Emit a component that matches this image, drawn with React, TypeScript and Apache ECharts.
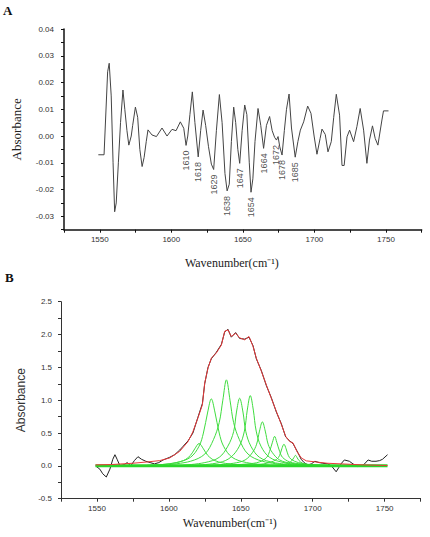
import React, { useEffect, useRef } from 'react';
import * as echarts from 'echarts';

// ---------- Panel A: second-derivative spectrum ----------
const topWavenumbers = [
  1549, 1553, 1555.5, 1556.6, 1558, 1559.3, 1560.4, 1561.5, 1563, 1564.5, 1566.2, 1567.5, 1569, 1570.3,
  1572, 1573, 1574.9, 1576.5, 1578, 1579.6, 1581, 1582.5, 1583.7, 1586.5, 1589.6, 1593.5, 1597,
  1600.5, 1603.3, 1606.3, 1608.7, 1610.3, 1611.5, 1613, 1614.7, 1616.5, 1618.8, 1620.5, 1622.2,
  1624, 1626, 1628, 1629.6, 1631.5, 1633.6, 1635.5, 1637.5, 1639, 1640.5, 1642, 1643.6, 1645,
  1646.5, 1647.8, 1649.5, 1651.3, 1652.8, 1654.5, 1655.7, 1657, 1658.5, 1660.6, 1662.5, 1664.5,
  1666.5, 1668.7, 1670.5, 1672.2, 1673.5, 1674.6, 1675.8, 1677.4, 1679, 1680.5, 1682.3, 1684,
  1686.6, 1688.5, 1690.2, 1692.5, 1695.3, 1697.6, 1699.8, 1701.8, 1704, 1705.3, 1707.6, 1709.5,
  1711.8, 1713.5, 1715.3, 1717.6, 1719.3, 1720.8, 1722.8, 1724.6, 1727.4, 1729.7, 1732, 1734.4,
  1736.7, 1738.5, 1740.6, 1742.5, 1744.4, 1747.2, 1748.3, 1751.8,
];
const topAbsorbance = [
  -0.007, -0.007, 0.024, 0.0272, 0.015, -0.01, -0.0283, -0.025, -0.01, 0.005, 0.0172, 0.01, 0.002, -0.0034,
  0.0, 0.004, 0.0108, 0.007, -0.005, -0.0114, -0.008, -0.002, 0.0023, 0.0004, -0.0002, 0.003, 0.0,
  0.0025, 0.002, 0.0053, 0.0029, -0.0035, 0.0, 0.008, 0.0165, 0.005, -0.0078, 0.002, 0.0097,
  0.004, -0.004, -0.0105, -0.0125, 0.002, 0.0155, 0.005, -0.014, -0.0205, -0.018, -0.002, 0.0108, 0.005,
  -0.005, -0.0102, 0.002, 0.0116, 0.008, -0.01, -0.021, -0.016, -0.002, 0.0103, 0.004, -0.0046,
  0.004, 0.0073, 0.002, -0.0005, -0.0015, -0.0002, -0.004, -0.0071, 0.002, 0.01, 0.0157, 0.003,
  -0.0079, -0.002, 0.0022, 0.0053, 0.0112, 0.0085, 0.0, -0.0068, -0.0009, 0.0026, 0.0006, -0.0059,
  -0.0021, 0.007, 0.0156, 0.0078, -0.011, -0.011, -0.0003, 0.0022, -0.0021, 0.0035, 0.0103, 0.0022,
  -0.0102, -0.0015, 0.0038, -0.0009, -0.0034, 0.006, 0.0094, 0.0094,
];
const peakNames = ['1610', '1618', '1629', '1638', '1647', '1654', '1664', '1672', '1678', '1685'];
const peakWavenumbers = [1610.3, 1618.8, 1629.6, 1639, 1647.8, 1655.7, 1664.5, 1673.5, 1677.4, 1686.6];
const peakAbsorbance = [-0.0035, -0.0078, -0.0125, -0.0205, -0.0102, -0.021, -0.0046, -0.0015, -0.0071, -0.0079];

const topYTicks = { min: -0.035, max: 0.04, step: 0.005 };
const xTicks = { min: 1525, max: 1775, step: 25 };

// ---------- Panel B: curve fitting ----------
const rawSpectrum: [number, number][] = [
  [1549, 0.0], [1552, -0.05], [1554, -0.12], [1556.5, -0.17], [1559, -0.05], [1561, 0.1], [1562.5, 0.17],
  [1564, 0.1], [1566, 0.0], [1569, 0.02], [1571, 0.05], [1573.5, 0.0], [1576, 0.08], [1578.5, 0.14],
  [1581, 0.1], [1584, 0.07], [1587, 0.05], [1590, 0.03], [1593, 0.05], [1596, 0.09], [1600.5, 0.13],
  [1604, 0.17], [1607.5, 0.24], [1610, 0.3], [1613.3, 0.38], [1616.7, 0.5], [1620.2, 0.74], [1623.3, 0.95],
  [1624.9, 1.25], [1627.2, 1.5], [1629.5, 1.63], [1633, 1.73], [1636.5, 1.85], [1638.8, 2.04],
  [1641.1, 2.08], [1643.4, 1.96], [1646.4, 2.03], [1649.2, 1.94], [1652.7, 1.93], [1655.7, 1.96],
  [1658.5, 1.83], [1660.8, 1.63], [1664.3, 1.45], [1667.8, 1.22], [1671.2, 1.04], [1674.7, 0.82],
  [1678.2, 0.64], [1681.2, 0.44], [1684, 0.38], [1686.3, 0.34], [1689, 0.23], [1692, 0.1],
  [1694, 0.05], [1696.5, 0.015], [1699, 0.03], [1701.5, 0.07], [1704.5, 0.05], [1707, 0.04],
  [1710.5, 0.03], [1713, 0.0], [1716.3, -0.09], [1718, -0.03], [1720, 0.04], [1722, 0.09],
  [1725.5, 0.07], [1728, 0.03], [1731, -0.01], [1734, 0.0], [1736, 0.03], [1738.5, 0.09],
  [1741, 0.07], [1744, 0.07], [1746.5, 0.08], [1748.5, 0.1], [1752, 0.17],
];
const fittedSpectrum: [number, number][] = [
  [1549, 0.015], [1560, 0.02], [1575, 0.04], [1585, 0.06], [1593.6, 0.08], [1600.5, 0.12],
  [1607.5, 0.22], [1613.3, 0.37], [1616.7, 0.52], [1620.2, 0.73], [1623.3, 0.93], [1624.9, 1.26],
  [1627.2, 1.49], [1629.5, 1.64], [1633, 1.72], [1636.5, 1.84], [1638.8, 2.05], [1641.1, 2.07],
  [1643.4, 1.97], [1646.4, 2.02], [1649.2, 1.95], [1652.7, 1.92], [1655.7, 1.97], [1658.5, 1.82],
  [1660.8, 1.64], [1664.3, 1.44], [1667.8, 1.23], [1671.2, 1.03], [1674.7, 0.83], [1678.2, 0.63],
  [1681.2, 0.45], [1684, 0.37], [1686.3, 0.35], [1689, 0.22], [1692.1, 0.12], [1695.6, 0.076],
  [1702, 0.06], [1710, 0.04], [1720, 0.03], [1735, 0.015], [1752, 0.005],
];
const band1621: [number, number][] = [
  [1585, 0.01], [1600, 0.03], [1610, 0.08], [1615, 0.16], [1618, 0.26], [1621, 0.34], [1624, 0.26],
  [1627, 0.16], [1632, 0.08], [1642, 0.03], [1660, 0.01],
];
const band1629: [number, number][] = [
  [1590, 0.01], [1605, 0.05], [1615, 0.13], [1621, 0.3], [1624, 0.5], [1627, 0.82], [1629.5, 1.02],
  [1632, 0.82], [1635, 0.5], [1638, 0.3], [1644, 0.13], [1654, 0.05], [1670, 0.01],
];
const band1640: [number, number][] = [
  [1600, 0.02], [1615, 0.07], [1625, 0.18], [1631, 0.4], [1635, 0.66], [1637.5, 1.0], [1640, 1.31],
  [1642.5, 1.0], [1645, 0.66], [1649, 0.4], [1655, 0.18], [1665, 0.07], [1680, 0.02],
];
const band1649: [number, number][] = [
  [1610, 0.01], [1625, 0.05], [1635, 0.13], [1641, 0.3], [1645, 0.52], [1647, 0.82], [1649.2, 1.03],
  [1651.5, 0.82], [1653.5, 0.52], [1657, 0.3], [1663, 0.13], [1673, 0.05], [1690, 0.01],
];
const band1657: [number, number][] = [
  [1620, 0.01], [1635, 0.05], [1643, 0.13], [1649, 0.3], [1652.5, 0.53], [1654.5, 0.85], [1656.6, 1.07],
  [1658.7, 0.85], [1660.7, 0.53], [1664, 0.3], [1670, 0.13], [1680, 0.05], [1695, 0.01],
];
const band1665: [number, number][] = [
  [1630, 0.01], [1645, 0.04], [1653, 0.09], [1658, 0.2], [1661, 0.33], [1663, 0.53], [1665, 0.67],
  [1667, 0.53], [1669, 0.33], [1672, 0.2], [1677, 0.09], [1685, 0.04], [1700, 0.01],
];
const band1673: [number, number][] = [
  [1640, 0.01], [1655, 0.03], [1663, 0.06], [1668, 0.13], [1670, 0.22], [1672, 0.36], [1673.5, 0.45],
  [1675, 0.36], [1677, 0.22], [1679, 0.13], [1684, 0.06], [1692, 0.03], [1705, 0.01],
];
const band1680: [number, number][] = [
  [1648, 0.01], [1662, 0.02], [1670, 0.05], [1675, 0.1], [1677, 0.16], [1678.5, 0.26], [1680, 0.33],
  [1681.5, 0.26], [1683, 0.16], [1685, 0.1], [1690, 0.05], [1698, 0.02], [1710, 0.01],
];
const band1688: [number, number][] = [
  [1665, 0.005], [1678, 0.015], [1683, 0.04], [1685.5, 0.08], [1687, 0.13], [1688, 0.16], [1689, 0.13],
  [1690.5, 0.08], [1693, 0.04], [1698, 0.015], [1710, 0.005],
];
const bands = [band1621, band1629, band1640, band1649, band1657, band1665, band1673, band1680, band1688];
const baseline: [number, number][] = [[1549, 0], [1752, 0]];
const bottomYTicks = { min: -0.5, max: 2.5, step: 0.25 };

const xTitle = 'Wavenumber(cm⁻¹)';
const yTitle = 'Absorbance';

const sans = 'Liberation Sans, Arial, sans-serif';
const serif = 'Liberation Serif, Times New Roman, serif';

function xAxisFor(gridIndex: number, nameGap: number, lineColor: string, lineWidth: number) {
  return {
    type: 'value',
    gridIndex,
    min: xTicks.min,
    max: xTicks.max,
    interval: xTicks.step,
    name: xTitle,
    nameLocation: 'middle',
    nameGap,
    nameTextStyle: { fontFamily: serif, fontSize: 12, color: '#222', padding: [0, 22, 0, 0] },
    axisLine: { show: true, onZero: false, lineStyle: { color: lineColor, width: lineWidth } },
    axisTick: { show: true, length: 3, lineStyle: { color: lineColor } },
    axisLabel: {
      fontFamily: sans,
      fontSize: 8,
      color: '#333',
      margin: 6,
      formatter: (v: number) => (Math.round(v) % 50 === 0 ? String(Math.round(v)) : ''),
    },
    splitLine: { show: false },
  };
}

export default function App() {
  const ref = useRef<HTMLDivElement>(null);
  useEffect(() => {
    const chart = echarts.init(ref.current!, null, { renderer: 'svg' });
    const option: any = {
      animation: false,
      backgroundColor: '#fff',
      grid: [
        { left: 64, top: 29, width: 357.7, height: 200.7 },
        { left: 61, top: 301.7, width: 359.6, height: 197 },
      ],
      xAxis: [xAxisFor(0, 27, '#111', 1.5), xAxisFor(1, 18, '#333', 1)],
      yAxis: [
        {
          type: 'value',
          gridIndex: 0,
          min: topYTicks.min,
          max: topYTicks.max,
          interval: topYTicks.step,
          name: yTitle,
          nameLocation: 'middle',
          nameGap: 41,
          nameTextStyle: { fontFamily: serif, fontSize: 13, color: '#222' },
          axisLine: { show: true, onZero: false, lineStyle: { color: '#111', width: 1.5 } },
          axisTick: { show: true, length: 3, lineStyle: { color: '#111' } },
          axisLabel: {
            fontFamily: sans,
            fontSize: 8,
            color: '#333',
            margin: 10,
            formatter: (v: number) =>
              Math.abs(v * 100 - Math.round(v * 100)) < 1e-6 ? (Math.round(v * 100) / 100).toFixed(2) : '',
          },
          splitLine: { show: false },
        },
        {
          type: 'value',
          gridIndex: 1,
          min: bottomYTicks.min,
          max: bottomYTicks.max,
          interval: bottomYTicks.step,
          name: yTitle,
          nameLocation: 'middle',
          nameGap: 32,
          nameTextStyle: { fontFamily: sans, fontSize: 12, color: '#333' },
          axisLine: { show: true, onZero: false, lineStyle: { color: '#333', width: 1 } },
          axisTick: { show: true, length: 3, lineStyle: { color: '#333' } },
          axisLabel: {
            fontFamily: sans,
            fontSize: 8,
            color: '#333',
            margin: 9,
            formatter: (v: number) =>
              Math.abs(v * 2 - Math.round(v * 2)) < 1e-6 ? (Math.round(v * 2) / 2).toFixed(1) : '',
          },
          splitLine: { show: false },
        },
      ],
      graphic: [
        { type: 'text', left: 3, top: 4, style: { text: 'A', font: 'bold 13px ' + serif, fill: '#111' } },
        { type: 'text', left: 5, top: 271, style: { text: 'B', font: 'bold 13px ' + serif, fill: '#111' } },
      ],
      series: [
        {
          type: 'line',
          xAxisIndex: 0,
          yAxisIndex: 0,
          data: topWavenumbers.map((x, i) => [x, topAbsorbance[i]]),
          showSymbol: false,
          lineStyle: { color: '#444', width: 1 },
          silent: true,
        },
        {
          type: 'scatter',
          xAxisIndex: 0,
          yAxisIndex: 0,
          symbolSize: 0,
          silent: true,
          data: peakWavenumbers.map((x, i) => ({ value: [x, peakAbsorbance[i]], name: peakNames[i] })),
          label: {
            show: true,
            formatter: '{b}',
            position: 'bottom',
            distance: 5,
            rotate: 90,
            align: 'right',
            verticalAlign: 'middle',
            fontFamily: sans,
            fontSize: 9,
            color: '#222',
          },
        },
        {
          type: 'line',
          xAxisIndex: 1,
          yAxisIndex: 1,
          data: rawSpectrum,
          showSymbol: false,
          lineStyle: { color: '#222', width: 1 },
          silent: true,
        },
        ...bands.map((b) => ({
          type: 'line',
          xAxisIndex: 1,
          yAxisIndex: 1,
          data: b,
          smooth: 0.35,
          showSymbol: false,
          lineStyle: { color: '#3fdc3f', width: 1 },
          silent: true,
        })),
        {
          type: 'line',
          xAxisIndex: 1,
          yAxisIndex: 1,
          data: baseline,
          showSymbol: false,
          lineStyle: { color: '#2ad62a', width: 3 },
          silent: true,
        },
        {
          type: 'line',
          xAxisIndex: 1,
          yAxisIndex: 1,
          data: fittedSpectrum,
          showSymbol: false,
          lineStyle: { color: '#e8393a', width: 1 },
          silent: true,
        },
      ],
    };
    chart.setOption(option);
    return () => chart.dispose();
  }, []);
  return (
    <div
      ref={ref}
      style={{ position: 'absolute', left: 0, top: 0, width: 430, height: 537, background: '#fff' }}
    />
  );
}
